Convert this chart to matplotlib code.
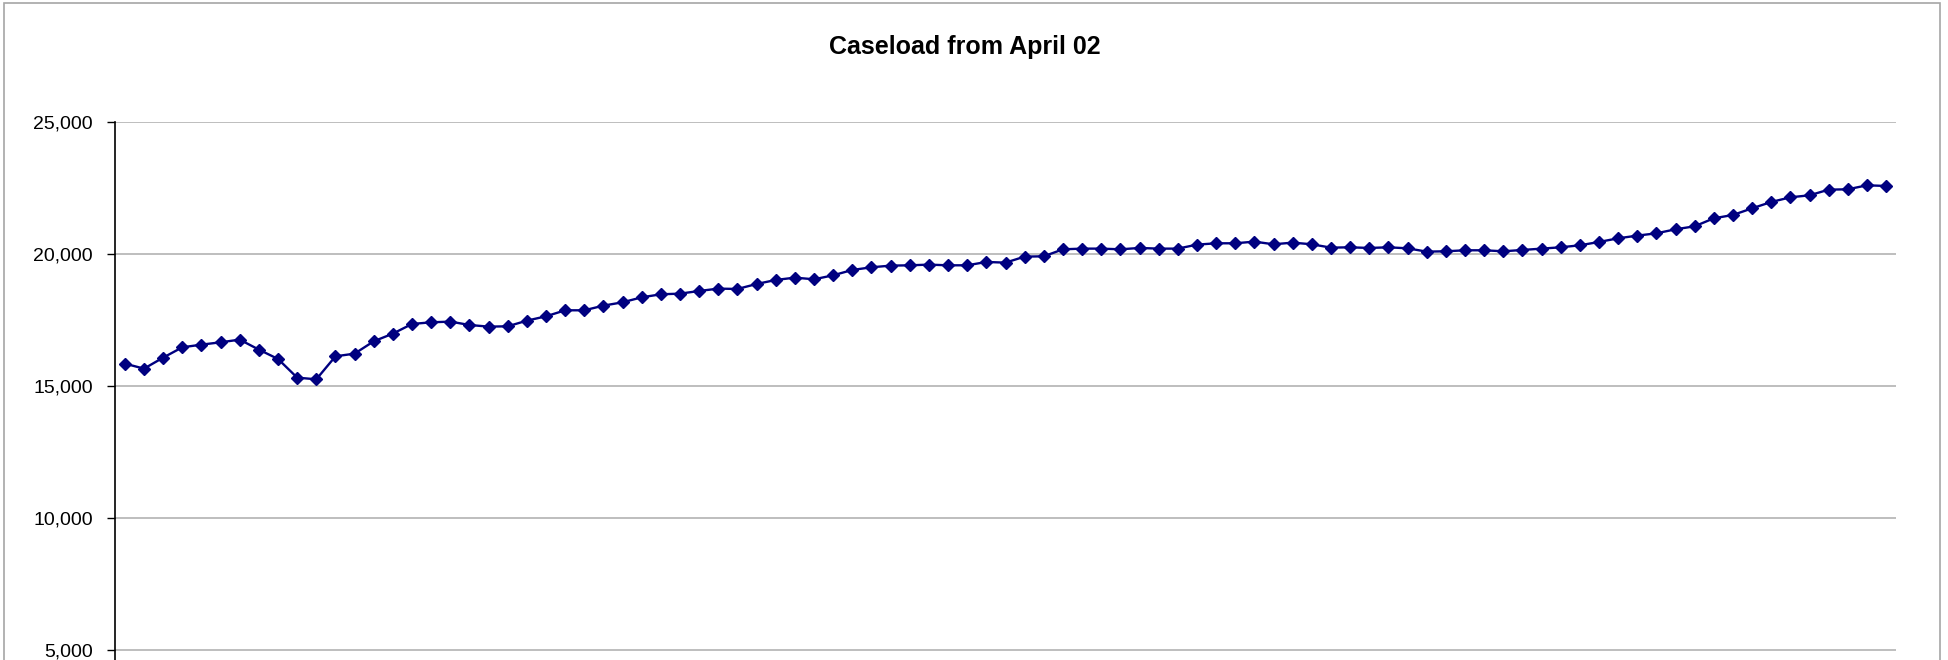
#!/usr/bin/env python3
"""Monthly caseload line chart, April 2002 onwards."""
import matplotlib
matplotlib.use("Agg")
import matplotlib.pyplot as plt
from matplotlib.patches import Rectangle
from matplotlib.ticker import FuncFormatter
import numpy as np

# Monthly caseload, one value per month starting April 2002
caseload = [
    15859, 15669, 16086, 16477, 16578, 16667, 16768, 16389, 16035, 15328,
    15265, 16136, 16237, 16705, 16995, 17361, 17424, 17450, 17323, 17260,
    17273, 17487, 17652, 17879, 17879, 18056, 18182, 18371, 18485, 18510,
    18611, 18700, 18687, 18876, 19028, 19116, 19053, 19205, 19407, 19508,
    19571, 19583, 19609, 19583, 19583, 19710, 19684, 19912, 19924, 20189,
    20215, 20215, 20189, 20240, 20215, 20215, 20366, 20417, 20417, 20480,
    20379, 20442, 20379, 20252, 20265, 20240, 20265, 20227, 20101, 20114,
    20152, 20152, 20114, 20164, 20215, 20265, 20341, 20467, 20606, 20707,
    20795, 20947, 21061, 21364, 21490, 21742, 21982, 22159, 22235, 22449,
    22462, 22614, 22588,
]
y_ticks = [0, 5000, 10000, 15000, 20000, 25000]
title = "Caseload from April 02"

plt.rcParams["font.family"] = ["Liberation Sans", "DejaVu Sans"]

W, H = 1948, 660
fig = plt.figure(figsize=(W / 100, H / 100), dpi=100)

# plot area runs past the bottom edge of the image
ax = fig.add_axes([115.3 / W, -122.3 / H, (1895.7 - 115.3) / W, 1.0])

x = np.arange(len(caseload))
ax.plot(x, caseload, color="#000080", lw=1.7, marker="D", ms=6,
        markeredgecolor="#000080", markerfacecolor="#000080", zorder=3)

ax.set_xlim(-0.5, len(caseload) - 0.5)
ax.set_ylim(0, 25000)
ax.set_yticks(y_ticks)
ax.yaxis.set_major_formatter(FuncFormatter(lambda v, p: f"{int(v):,}"))
ax.tick_params(axis="y", direction="out", length=6, width=1, pad=10,
               labelsize=14, colors="black")
ax.set_xticks([])
ax.grid(axis="y", color="#b3b3b3", lw=1.2)
ax.set_axisbelow(True)

for side in ("top", "right", "bottom"):
    ax.spines[side].set_visible(False)
ax.spines["left"].set_linewidth(1.2)

fig.text(964.7 / W, 1 - 47 / H, title, ha="center", va="center",
         fontsize=18, fontweight="bold")

# thin frame around the whole chart
fig.patches.append(Rectangle((4 / W, -0.1), (1940 - 4) / W, 1.1 - 2.5 / H,
                             transform=fig.transFigure, fill=False,
                             edgecolor="#a6a6a6", lw=1.2))

fig.savefig("out.png", dpi=100)
plt.close(fig)
